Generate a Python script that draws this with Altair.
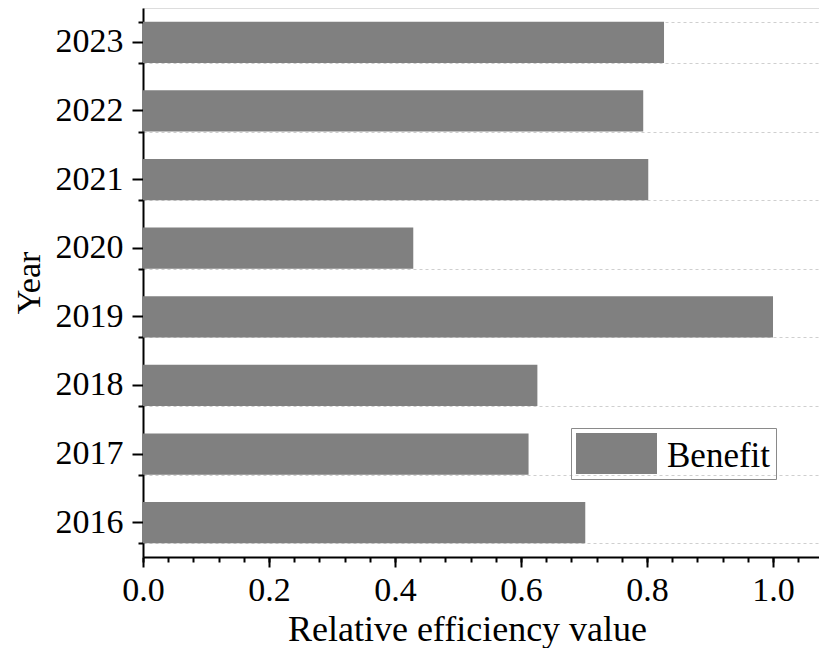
import altair as alt
import pandas as pd

years = ["2016", "2017", "2018", "2019", "2020", "2021", "2022", "2023"]
values = [0.702, 0.612, 0.626, 1.0, 0.429, 0.802, 0.794, 0.827]
series = ["Benefit"] * len(years)
year_order = ["2023", "2022", "2021", "2020", "2019", "2018", "2017", "2016"]
major_x = [0.0, 0.2, 0.4, 0.6, 0.8, 1.0]
minor_x = [0.0, 0.04, 0.08, 0.12, 0.16, 0.2, 0.24, 0.28, 0.32, 0.36, 0.4,
           0.44, 0.48, 0.52, 0.56, 0.6, 0.64, 0.68, 0.72, 0.76, 0.8, 0.84,
           0.88, 0.92, 0.96, 1.0, 1.04]

df = pd.DataFrame({"Year": years, "Value": values, "Series": series})

FONT = "Liberation Serif"
BAR = "#808080"
XMAX = 1.073

yscale = alt.Scale(domain=year_order, paddingInner=0.4, paddingOuter=0.2)
xscale = alt.Scale(domain=[0, XMAX], nice=False, zero=True)

bars = alt.Chart(df).mark_bar(color=BAR).encode(
    x=alt.X("Value:Q", scale=xscale,
            axis=alt.Axis(orient="bottom", values=major_x, format=".1f",
                          title="Relative efficiency value",
                          tickSize=10, tickWidth=2, tickColor="black",
                          domainColor="black", domainWidth=2,
                          labelFont=FONT, labelFontSize=34, labelColor="black",
                          labelPadding=6, labelFlush=False,
                          titleFont=FONT, titleFontSize=36, titleFontWeight="normal",
                          titleColor="black", titleX=324, titleY=83,
                          titleAlign="center", titleBaseline="alphabetic",
                          grid=False)),
    y=alt.Y("Year:N", scale=yscale,
            axis=alt.Axis(orient="left", title="Year", tickSize=11, tickWidth=2,
                          tickColor="black", domainColor="black", domainWidth=2,
                          labelFont=FONT, labelFontSize=34, labelColor="black",
                          labelPadding=9, labelBaseline="middle",
                          titleFont=FONT, titleFontSize=34, titleFontWeight="normal",
                          titleColor="black", titlePadding=9, grid=False)),
    color=alt.Color("Series:N",
                    scale=alt.Scale(domain=["Benefit"], range=[BAR]),
                    legend=alt.Legend(title=None, orient="none", legendX=428, legendY=420,
                                      strokeColor="#8a8a8a", padding=5,
                                      symbolType="M-1,-1H1V0.012H-1Z",
                                      symbolSize=6561, symbolStrokeWidth=0,
                                      labelFont=FONT, labelFontSize=35,
                                      labelColor="black", labelOffset=10,
                                      labelBaseline="bottom",
                                      labelLimit=300)),
)

minor = alt.Chart(df).mark_bar(opacity=0).encode(
    x=alt.X("Value:Q", scale=xscale,
            axis=alt.Axis(orient="bottom", values=minor_x, labels=False, title=None,
                          domain=False, tickSize=5, tickWidth=2, tickColor="black",
                          grid=False)),
    y=alt.Y("Year:N", scale=yscale,
            axis=alt.Axis(orient="left", labels=False, title=None, domain=False,
                          tickBand="extent", tickSize=5, tickWidth=2, tickColor="black",
                          grid=True, gridColor="#cfcfcf", gridDash=[3, 3], gridWidth=1)),
)

chart = alt.layer(minor, bars).resolve_scale(
    x="independent", y="independent"
).resolve_axis(
    x="independent", y="independent"
).properties(
    width=676, height=549,
    autosize=alt.AutoSizeParams(type="none"),
    padding={"left": 135, "top": 0, "right": 0, "bottom": 91},
).configure_view(
    stroke="#333333", strokeWidth=1.5
).configure(background="white")

chart.save("out.html", embed_options={"renderer": "svg", "actions": False})
